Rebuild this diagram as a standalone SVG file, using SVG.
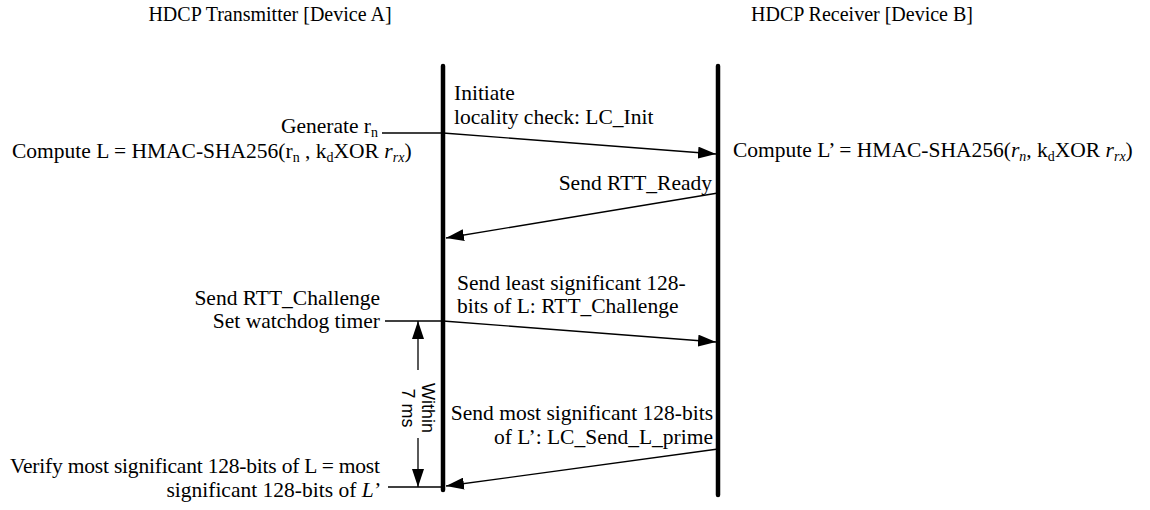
<svg xmlns="http://www.w3.org/2000/svg" width="1150" height="510" viewBox="0 0 1150 510">
<style>
text{font-family:"Liberation Serif","Times New Roman",serif;font-size:21.5px;fill:#000}
.t{font-size:20px}
.r{text-anchor:end}
.sub{font-size:14px}
.sans{font-family:"Liberation Sans",Arial,sans-serif;font-size:18px}
.life{stroke:#000;stroke-width:4.5;stroke-linecap:round}
.ln{stroke:#000;stroke-width:1.3;fill:none}
</style>
<defs>
<marker id="ah" viewBox="0 0 18 12" refX="18" refY="6" markerWidth="18" markerHeight="12" markerUnits="userSpaceOnUse" orient="auto">
<path d="M0,0 L18,6 L0,12 Z" fill="#000"/>
</marker>
</defs>
<g id="titles">
<text class="t" x="270" y="21" text-anchor="middle">HDCP Transmitter [Device A]</text>
<text class="t" x="862" y="21" text-anchor="middle">HDCP Receiver [Device B]</text>
</g>
<g id="lifeline-A"><line class="life" x1="443" y1="66" x2="443" y2="490"/></g>
<g id="lifeline-B"><line class="life" x1="718" y1="66" x2="718" y2="495"/></g>
<g id="left-notes">
<text class="r" x="378" y="133">Generate r<tspan class="sub" dy="4">n</tspan></text>
<text x="12" y="158">Compute L = HMAC-SHA256(r<tspan class="sub" dy="4">n</tspan><tspan dy="-4"> , k</tspan><tspan class="sub" dy="4">d</tspan><tspan dy="-4">XOR </tspan><tspan font-style="italic">r</tspan><tspan class="sub" font-style="italic" dy="4">rx</tspan><tspan dy="-4">)</tspan></text>
<text class="r" x="380" y="305">Send RTT_Challenge</text>
<text class="r" x="380" y="328">Set watchdog timer</text>
<text class="r" x="380" y="473" textLength="370" lengthAdjust="spacing">Verify most significant 128-bits of L = most</text>
<text class="r" x="380" y="497">significant 128-bits of <tspan font-style="italic">L’</tspan></text>
</g>
<g id="right-notes">
<text x="733" y="157">Compute L’ = HMAC-SHA256(<tspan font-style="italic">r</tspan><tspan class="sub" font-style="italic" dy="4">n</tspan><tspan dy="-4">, k</tspan><tspan class="sub" dy="4">d</tspan><tspan dy="-4">XOR </tspan><tspan font-style="italic">r</tspan><tspan class="sub" font-style="italic" dy="4">rx</tspan><tspan dy="-4">)</tspan></text>
</g>
<g id="messages">
<text x="454" y="100">Initiate</text>
<text x="454" y="124">locality check: LC_Init</text>
<text class="r" x="712" y="190">Send RTT_Ready</text>
<text x="457" y="290">Send least significant 128-</text>
<text x="457" y="313">bits of L: RTT_Challenge</text>
<text class="r" x="713" y="420">Send most significant 128-bits</text>
<text class="r" x="713" y="444">of L’: LC_Send_L_prime</text>
</g>
<g id="timer">
<text class="sans" transform="translate(422,408) rotate(90)" text-anchor="middle">Within</text>
<text class="sans" transform="translate(402,408) rotate(90)" text-anchor="middle">7 ms</text>
</g>
<g id="connectors">
<line class="ln" x1="382" y1="133" x2="443" y2="133"/>
<line class="ln" x1="443" y1="133" x2="716" y2="154" marker-end="url(#ah)"/>
<line class="ln" x1="718" y1="193" x2="446" y2="238" marker-end="url(#ah)"/>
<line class="ln" x1="385" y1="321" x2="443" y2="321"/>
<line class="ln" x1="443" y1="321" x2="716" y2="342" marker-end="url(#ah)"/>
<line class="ln" x1="718" y1="449" x2="446" y2="486" marker-end="url(#ah)"/>
<line class="ln" x1="388" y1="487" x2="443" y2="487"/>
<line class="ln" x1="418" y1="370" x2="418" y2="321" marker-end="url(#ah)"/>
<line class="ln" x1="418" y1="438" x2="418" y2="487" marker-end="url(#ah)"/>
</g>
</svg>
